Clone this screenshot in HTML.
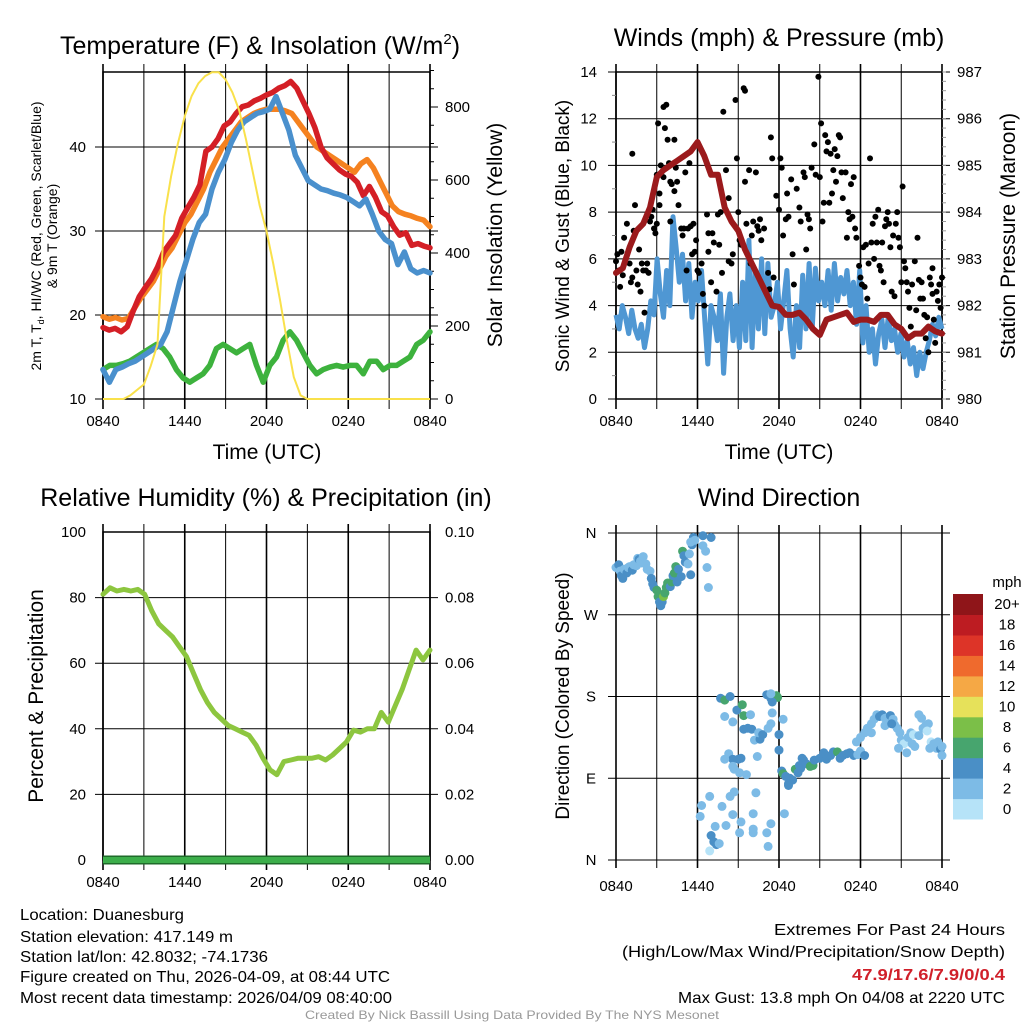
<!DOCTYPE html>
<html><head><meta charset="utf-8">
<style>
html,body{margin:0;padding:0;background:#fff;}
svg{display:block;font-family:"Liberation Sans",sans-serif;}
</style></head>
<body>
<svg id="fig" width="1024" height="1024" viewBox="0 0 1024 1024"></svg>
<script>
// ---------- DATA ----------
const timeLabels = ["0840","1440","2040","0240","0840"];
// Panel 1 (samples evenly spaced over 24h)
const tempRed = [18.5,18.2,18.4,18.0,18.6,20.5,22.2,23.3,24.3,25.7,27.5,28.5,29.5,31.5,32.8,34.0,35.5,39.5,40.0,41.0,42.5,43.0,44.0,44.8,45.0,45.5,45.8,46.2,46.5,47.0,47.3,47.8,47.0,45.5,44.0,42.3,40.0,38.7,38.0,37.3,36.8,36.5,35.8,34.2,35.3,34.0,32.3,31.8,30.5,29.5,29.8,28.3,28.5,28.2,28.0];
const tempOrange = [19.8,19.5,19.7,19.4,19.6,20.8,22.0,23.0,24.0,25.5,27.0,28.0,29.5,31.0,32.0,33.5,35.0,37.0,38.5,40.0,41.0,42.0,43.0,43.5,44.0,44.3,44.5,44.5,44.5,44.3,44.0,43.0,42.0,41.0,40.0,39.5,39.0,38.5,38.0,37.5,37.0,38.0,38.5,37.5,36.0,34.5,33.0,32.3,32.0,31.8,31.5,31.3,30.5];
const tempBlue = [13.5,12.0,13.5,13.8,14.2,14.5,15.0,15.5,16.0,16.5,18.0,21.0,24.0,26.5,29.0,31.0,32.0,35.0,37.0,38.5,40.5,42.0,43.0,43.5,44.0,44.2,44.5,46.0,44.0,42.0,39.0,37.5,36.0,35.5,35.0,34.8,34.5,34.3,34.0,33.5,33.0,33.8,32.0,30.0,29.0,28.5,26.0,27.5,25.5,25.0,25.3,25.0];
const tempGreen = [13.5,14.0,14.0,14.2,14.5,15.0,15.5,16.0,16.5,16.0,15.0,13.5,12.5,12.0,12.5,13.0,14.0,16.0,16.5,16.0,15.5,16.0,16.5,14.0,12.0,14.0,15.0,17.0,18.0,17.0,15.5,14.0,13.0,13.5,13.8,14.0,13.8,14.0,14.0,13.0,14.5,14.5,13.5,14.0,14.0,14.5,15.0,16.5,17.0,18.0];
const solar = [0,0,0,0,10,25,40,90,150,500,610,700,775,830,865,885,895,895,875,840,790,710,620,530,460,370,270,160,60,10,0,0,0,0,0,0,0,0,0,0,0,0,0,0,0,0,0,0,0];
const tempTicks = [10,20,30,40];
const solarTicks = [0,200,400,600,800];
// Panel 2
const windSpeed = [3.6,3.0,4.0,3.5,2.8,3.8,3.0,2.6,3.2,2.2,3.0,4.2,3.6,6.0,4.5,3.5,5.5,4.0,7.8,6.5,5.0,6.2,4.2,5.8,3.5,5.0,4.2,5.5,3.5,1.5,4.0,3.5,2.5,4.5,1.1,3.5,4.5,2.5,4.0,2.2,5.0,2.5,6.8,2.2,5.5,3.0,6.0,2.8,5.8,3.5,4.0,5.0,3.0,4.2,5.5,3.0,1.8,4.0,2.2,5.3,3.0,5.8,3.0,5.6,4.2,5.0,4.0,5.5,3.8,5.8,4.2,5.2,4.5,5.5,4.0,5.0,3.2,5.5,2.4,4.0,2.0,3.0,1.5,2.8,3.4,2.2,3.5,2.5,3.0,2.0,2.8,1.8,2.5,1.5,2.2,1.0,2.0,1.3,2.0,2.5,3.2,2.7,3.5,3.0];
const pressure = [982.7,982.8,983.25,983.6,983.75,984.1,984.75,984.9,985.0,985.1,985.2,985.3,985.5,985.2,984.8,984.8,984.1,983.8,983.6,983.2,982.9,982.6,982.3,982.0,981.97,981.8,981.8,981.85,981.7,981.5,981.37,981.7,981.75,981.8,981.85,981.65,981.7,981.7,981.65,981.8,981.8,981.6,981.5,981.3,981.4,981.4,981.55,981.45,981.4];
const gustT = [0.0,0.1,0.2,0.3,0.4,0.5,0.6,0.8,1.0,1.1,1.2,1.3,1.2,1.4,1.5,1.6,1.7,1.8,1.9,2.0,2.1,2.2,2.4,2.3,2.5,2.6,2.7,2.8,2.9,3.0,3.0,3.1,3.2,3.2,3.3,3.5,3.5,3.6,3.7,3.8,3.9,4.0,4.0,4.1,4.3,4.3,4.4,4.5,4.6,4.8,4.9,5.0,5.1,5.2,5.3,5.4,5.5,5.6,5.7,5.8,5.9,6.0,6.1,6.3,6.4,6.5,6.7,6.8,6.8,7.0,7.1,7.2,7.4,7.5,7.6,7.7,7.8,7.9,8.1,8.3,8.3,8.5,8.6,8.8,8.9,9.0,9.1,9.2,9.4,9.5,9.5,9.6,9.8,9.9,10.0,10.1,10.3,10.4,10.5,10.6,10.7,10.9,11.2,11.3,11.4,11.5,11.6,11.8,12.0,12.1,12.2,12.3,12.5,12.6,12.7,12.9,13.0,13.1,13.3,13.5,13.6,13.8,13.9,14.0,14.1,14.2,14.3,14.4,14.6,14.7,14.9,15.0,15.1,15.2,15.3,15.4,15.5,15.6,15.7,15.8,15.9,16.0,16.1,16.2,16.3,16.4,16.5,16.6,16.7,16.9,17.0,17.1,17.2,17.3,17.4,17.5,17.6,17.7,17.9,18.0,18.1,18.2,18.3,18.4,18.5,18.6,18.7,18.8,18.9,19.0,19.1,19.2,19.3,19.4,19.5,19.6,19.7,19.8,19.9,20.0,20.1,20.2,20.3,20.4,20.5,20.6,20.7,20.8,20.9,21.0,21.1,21.2,21.3,21.4,21.5,21.6,21.7,21.8,22.0,22.1,22.2,22.3,22.4,22.5,22.6,22.7,22.8,22.9,23.0,23.1,23.2,23.3,23.4,23.5,23.6,23.7,23.3,23.8,23.9,24.0];
const gustV = [5.9,6.2,5.5,4.8,6.3,5.3,6.9,7.5,5.8,5.0,5.2,7.2,10.5,8.3,5.5,4.9,6.4,4.6,5.8,5.5,3.7,5.5,5.4,5.8,7.6,7.8,8.1,7.3,7.1,7.5,9.6,11.8,8.3,8.8,10.0,9.5,12.5,11.6,12.6,11.1,10.1,9.3,7.6,9.2,8.9,11.1,9.9,9.3,8.3,7.3,7.0,7.3,9.7,5.5,7.3,10.1,7.4,6.2,7.5,6.3,6.8,5.5,5.4,5.8,4.5,4.0,7.9,6.3,7.1,5.0,7.1,6.7,4.6,7.9,6.6,8.0,5.4,12.3,9.8,8.6,5.9,5.8,6.2,12.8,10.3,8.0,6.8,6.6,13.3,13.2,9.3,7.5,9.8,5.8,7.0,7.6,9.7,7.4,7.2,7.7,6.8,7.3,5.4,4.7,11.2,10.3,5.2,8.7,8.1,10.3,9.9,7.0,7.7,8.8,7.8,9.4,6.2,4.9,9.0,8.2,7.6,9.7,9.5,6.4,7.9,7.7,7.3,9.9,10.9,9.6,13.8,9.5,11.8,7.6,8.4,11.3,10.6,11.0,8.4,10.5,8.8,9.8,10.7,9.3,10.4,11.3,11.2,9.7,8.6,9.7,6.9,8.0,7.7,9.2,7.8,9.5,7.3,6.9,5.7,5.2,4.9,6.5,4.8,6.6,4.3,5.8,10.3,6.7,7.5,6.0,7.8,6.7,8.1,5.7,5.5,6.7,5.0,7.4,7.7,8.0,7.5,6.5,4.6,7.0,4.4,7.5,8.0,6.9,6.5,5.0,9.1,5.9,5.6,5.0,4.6,3.9,3.1,4.9,5.9,3.8,6.9,5.1,4.3,5.0,4.3,3.6,2.6,3.5,2.0,5.2,4.9,5.6,3.4,2.4,4.6,4.2,4.5,4.9,3.9,5.2];
const windTicks = [0,2,4,6,8,10,12,14];
const pressTicks = [980,981,982,983,984,985,986,987];
// Panel 3
const rh = [81,83,82,82.5,82,82.5,81,76,72,70,68,65,62,57,52,48,45,43,41,40,39,38,35,31,27.5,26,30,30.5,31,31,31,31.5,30.5,32,34,36,39.6,39,40,40,45,42,47,52,58,64,61,64];
const precip = [0,0,0,0,0,0,0,0,0,0,0,0,0,0,0,0,0,0,0,0,0,0,0,0,0];
const rhTicks = [0,20,40,60,80,100];
const precipTicks = ["0.00","0.02","0.04","0.06","0.08","0.10"];
// Panel 4
const dirT = [0,0.2,0.3,0.4,0.5,0.6,0.8,0.9,1.0,1.2,1.3,1.5,1.6,1.7,1.8,1.9,2.0,2.2,2.3,2.5,2.6,2.7,2.8,3.0,3.1,3.2,3.3,3.4,3.5,3.6,3.7,3.8,4.0,4.1,4.2,4.3,4.4,4.5,4.6,4.8,4.9,5.0,5.1,5.3,5.4,5.5,5.6,5.7,5.8,5.5,6.4,6.4,6.6,6.7,7.0,6.8,
6.3,6.2,6.9,6.9,7.0,7.2,7.4,7.6,7.3,7.8,8.4,8.1,8.6,8.7,9.2,9.1,10.3,10.1,10.1,10.1,11.4,11.1,11.2,12.4,
7.7,8.0,8.4,8.0,8.9,8.6,9.3,9.4,9.4,9.7,10.0,10.2,10.6,10.5,10.8,11.2,11.4,11.1,11.4,11.8,11.9,11.5,11.4,12.3,12.0,12.0,11.5,8.3,8.6,9.0,9.2,8.7,9.1,8.6,8.0,9.6,10.4,9.9,
12.2,12.3,12.5,12.8,13.0,12.7,13.2,13.4,13.5,13.6,13.7,13.8,14.0,14.3,14.5,14.6,15.0,15.3,15.5,15.8,16.0,16.3,16.5,16.7,17.0,17.2,17.5,17.8,18.0,18.3,12.7,
17.7,18.0,18.3,18.5,18.8,19.0,19.2,19.4,19.6,19.8,20.0,20.2,20.4,20.5,20.7,20.9,21.0,21.2,21.5,21.7,21.9,22.0,22.3,22.6,22.8,23.0,23.2,22.5,22.3,22.9,23.1,23.4,23.6,23.7,23.9,24.0,24.0,21.4,20.8,21.8,18.8,19.8,20.3];
const dirD = [322,325,318,313,310,320,316,322,323,319,325,324,332,331,329,327,334,326,320,318,310,304,300,297,290,284,280,284,290,294,300,305,301,306,313,316,323,306,320,312,340,335,328,326,337,314,347,355,352,350,346,357,340,322,355,300,
60,48,70,10,27,20,17,18,37,59,70,38,50,75,42,30,74,34,51,30,40,30,15,51,
178,176,180,158,165,152,171,159,144,145,144,132,133,140,138,145,150,182,178,181,179,174,183,155,121,138,162,117,111,111,112,100,96,103,111,94,114,160,
98,95,92,90,88,84,100,96,104,101,112,110,106,103,104,110,112,118,111,115,119,119,112,115,117,118,115,116,120,115,82,
130,135,140,145,150,155,160,158,160,156,157,159,155,149,145,140,132,128,135,140,138,125,137,145,148,150,130,156,160,142,123,128,123,130,122,115,125,118,123,128,140,148,150];
const dirS = [3,4,3.5,4,4.5,3,4,3,2.5,4,2.5,2.5,2.5,4,3,2.5,2.5,2,2.5,3,4,4,5,6,6.5,5,4,5,8,6,6,7,5,6,5,7,6,4.5,4,4,6,4,4,3,3,4,4,4.5,2.5,2.5,2.5,4,2.5,2.5,4,2.5,
2.5,2.5,2.5,0.5,4,4,4,2.5,2.5,2.5,2.5,2.5,2.5,2.5,2.5,2.5,2.5,2.5,2.5,2.5,2.5,2.5,2.5,2.5,
4,6,4,2.5,4,2.5,6,6,4.5,4,4,2.5,4.5,2.5,4,2.5,2.5,4,4,6,6,4.5,2.5,2.5,4,4,2.5,2.5,4,4,4,2.5,2.5,2.5,2.5,2.5,2.5,2.5,
4,6,4.5,4.5,4,4,6,4,4,4,4.5,4,4.5,6,6,4,4,4,4.5,4.5,4,6,4,4,4,4.5,4,3,2.5,4,4,
2.5,2.5,2.5,2.5,3,2.5,3,4,4,2.5,2.5,4,3,2.5,2.5,2.5,2.5,1,2.5,2.5,1,2.5,2.5,2,2,2.5,1,3,3,1,2.5,2.5,2.5,2.5,4,2.5,2.5,2.5,2.5,2.5,2.5,2.5,4];
const dirTickLabels = ["N","E","S","W","N"];
const cbarLabels = ["0","2","4","6","8","10","12","14","16","18","20+"];
const cbarColors = ["#b6e3f8","#7dbbe6","#4a8fc6","#47a56e","#7bbf48","#e6e15a","#f5a845","#ef6a2d","#dd3428","#bd1c22","#8f1519"];

// ---------- HELPERS ----------
const NS = "http://www.w3.org/2000/svg";
const svg = document.getElementById("fig");
function mk(tag, attrs, parent) {
  const e = document.createElementNS(NS, tag);
  for (const k in attrs) e.setAttribute(k, attrs[k]);
  (parent || svg).appendChild(e);
  return e;
}
function txt(str, x, y, size, anchor, extra, parent) {
  const e = mk("text", Object.assign({x: x, y: y, "font-size": size, "text-anchor": anchor || "middle", fill: "#000"}, extra || {}), parent);
  e.textContent = str;
  return e;
}
function lineAttrs(x1,y1,x2,y2,w,c){return {x1:x1,y1:y1,x2:x2,y2:y2,stroke:c||"#000","stroke-width":w||1};}
function pathFrom(arr, sx, sy){
  let d="";
  arr.forEach((v,i)=>{ d += (i?"L":"M")+sx(i*24/(arr.length-1)).toFixed(1)+","+sy(v).toFixed(1); });
  return d;
}
function panelGrid(g, L, R, T, B, hVals, ys, bottomLabels) {
  for (let i=0;i<=8;i++){
    const x = L + (R-L)*i/8;
    const gl = mk("line", lineAttrs(x,T-8,x,B+10,i%2?1:1.6,"#000"), g);
    
    
    if (i%2===0 && bottomLabels){
      const t = txt(timeLabels[i/2], x, B+27, 15, "middle", {}, g);
      
      
    }
  }
  hVals.forEach(v=>{
    const y = ys(v);
    const hl = mk("line", lineAttrs(L-8,y,R+8,y,1,"#000"), g);
    
    
  });
  const fr = mk("rect",{x:L,y:T,width:R-L,height:B-T,fill:"none",stroke:"#000","stroke-width":1.5},g);
  
  
}

// ---------- PANEL 1 ----------
(function(){
  const g = mk("g",{});
  
  
  const L=103,R=430,T=72,B=399;
  const sx = h=>L+(R-L)*h/24;
  const sy = v=>B-(v-10)*8.4;
  const sy2 = v=>B-v*0.365;
  const tt = txt("Temperature (F) & Insolation (W/m", 260, 54, 25, "middle", {}, g);
  
  
  const sup = mk("tspan",{dy:-10,"font-size":15},tt); sup.textContent="2";
  const cl = mk("tspan",{dy:10},tt); cl.textContent=")";
  panelGrid(g,L,R,T,B,tempTicks,sy,true);
  tempTicks.forEach(v=>{
    const t = txt(String(v), 86, sy(v)+5, 15, "end", {}, g);
    
    
  });
  for (let v=0; v<=900; v+=50){
    const y=sy2(v);
    const tk = mk("line", lineAttrs(R, y, R+(v%200===0?8:4), y, 1,"#000"), g);
    
    
  }
  solarTicks.forEach(v=>{
    const t = txt(String(v), 445, sy2(v)+5, 15, "start", {}, g);
    
    
  });
  const series = [[tempGreen,"#3db23d","dewpoint-line"],[tempOrange,"#f58220","temp-9m-line"],[tempRed,"#d41f26","temp-2m-line"],[tempBlue,"#4a90cd","heat-index-line"]];
  series.forEach(s=>{
    const p = mk("path",{d:pathFrom(s[0],sx,sy),fill:"none",stroke:s[1],"stroke-width":5.5,"stroke-linejoin":"round","stroke-linecap":"round"},g);
    
    
  });
  const sp = mk("path",{d:pathFrom(solar,sx,sy2),fill:"none",stroke:"#f9e14b","stroke-width":2},g);
  
  
  const xt = txt("Time (UTC)", 267, 459, 21, "middle", {}, g);
  
  
  const y1 = txt("2m T, T", 0, 0, 14, "middle", {transform:"translate(41,236) rotate(-90)"}, g);
  
  
  const sub = mk("tspan",{dy:3,"font-size":9},y1); sub.textContent="d";
  const rest = mk("tspan",{dy:-3},y1); rest.textContent=", HI/WC (Red, Green, Scarlet/Blue)";
  const y1b = txt("& 9m T (Orange)", 0, 0, 14, "middle", {transform:"translate(57,236) rotate(-90)"}, g);
  
  
  const y2 = txt("Solar Insolation (Yellow)", 0, 0, 21, "middle", {transform:"translate(502,235) rotate(-90)"}, g);
  
  
})();

// ---------- PANEL 2 ----------
(function(){
  const g = mk("g",{});
  
  
  const L=616,R=942,T=72,B=399;
  const sx = h=>L+(R-L)*h/24;
  const sy = v=>B-v*(B-T)/14;
  const sy2 = v=>B-(v-980)*(B-T)/7;
  const tt = txt("Winds (mph) & Pressure (mb)", 779, 46, 25, "middle", {}, g);
  
  
  panelGrid(g,L,R,T,B,windTicks,sy,true);
  windTicks.forEach(v=>{
    const t = txt(String(v), 597, sy(v)+5, 15, "end", {}, g);
    
    
  });
  for (let v=0; v<=14; v+=1){
    if (v%2){const y=sy(v); const tk=mk("line",lineAttrs(L-4,y,L,y,1,"#888"),g);
    
    }
  }
  for (let v=980; v<=987.001; v+=0.2){
    const y=sy2(v);
    const tk=mk("line",lineAttrs(R,y,R+4,y,1,"#999"),g);
    
    
  }
  pressTicks.forEach(v=>{
    const t = txt(String(v), 957, sy2(v)+5, 15, "start", {}, g);
    
    
  });
  const wl = mk("path",{d:pathFrom(windSpeed,sx,sy),fill:"none",stroke:"#4f97d3","stroke-width":5,"stroke-linejoin":"round"},g);
  
  
  gustT.forEach((t,i)=>{
    const c = mk("circle",{cx:sx(t).toFixed(1),cy:sy(gustV[i]).toFixed(1),r:3,fill:"#000"},g);
    
    
  });
  const pl = mk("path",{d:pathFrom(pressure,sx,sy2),fill:"none",stroke:"#9b1a1c","stroke-width":6,"stroke-linejoin":"round","stroke-linecap":"round"},g);
  
  
  const xt = txt("Time (UTC)", 779, 459, 21, "middle", {}, g);
  
  
  const y1 = txt("Sonic Wind & Gust (Blue, Black)", 0, 0, 19, "middle", {transform:"translate(569,236) rotate(-90)"}, g);
  
  
  const y2 = txt("Station Pressure (Maroon)", 0, 0, 21, "middle", {transform:"translate(1015,236) rotate(-90)"}, g);
  
  
})();

// ---------- PANEL 3 ----------
(function(){
  const g = mk("g",{});
  
  
  const L=103,R=430,T=532,B=860;
  const sx = h=>L+(R-L)*h/24;
  const sy = v=>B-v*(B-T)/100;
  const sy2 = v=>B-v*(B-T)/0.1;
  const tt = txt("Relative Humidity (%) & Precipitation (in)", 266, 506, 25, "middle", {}, g);
  
  
  panelGrid(g,L,R,T,B,[20,40,60,80],sy,true);
  rhTicks.forEach(v=>{
    const t = txt(String(v), 86, sy(v)+5, 15, "end", {}, g);
    
    
  });
  precipTicks.forEach((s,i)=>{
    const t = txt(s, 445, B-i*(B-T)/5+5, 15, "start", {}, g);
    
    
  });
  const rl = mk("path",{d:pathFrom(rh,sx,sy),fill:"none",stroke:"#8dc63f","stroke-width":5,"stroke-linejoin":"round","stroke-linecap":"round"},g);
  
  
  const pl = mk("path",{d:pathFrom(precip,sx,sy2),fill:"none",stroke:"#1f6b2a","stroke-width":9},g);
  
  
  const pl2 = mk("path",{d:pathFrom(precip,sx,sy2),fill:"none",stroke:"#3cae4a","stroke-width":6},g);
  
  
  const y1 = txt("Percent & Precipitation", 0, 0, 21, "middle", {transform:"translate(43,696) rotate(-90)"}, g);
  
  
})();

// ---------- PANEL 4 ----------
(function(){
  const g = mk("g",{});
  
  
  const L=616,R=942,T=533,B=860;
  const sx = h=>L+(R-L)*h/24;
  const sy = d=>B-d*(B-T)/360;
  const tt = txt("Wind Direction", 779, 506, 25, "middle", {}, g);
  
  
  for (let i=0;i<=8;i++){
    const x = L+(R-L)*i/8;
    const gl = mk("line", lineAttrs(x,T-8,x,B+8,i%2?1:1.6,"#000"), g);
    
    
    if (i%2===0){
      const t = txt(timeLabels[i/2], x, 891, 15, "middle", {}, g);
      
      
    }
  }
  dirTickLabels.forEach((s,i)=>{
    const y = sy(i*90);
    const hl = mk("line", lineAttrs(L-8,y,R+8,y,1,"#000"), g);
    
    
    const t = txt(s, 591, y+5, 15, "middle", {}, g);
    
    
  });
  dirT.forEach((t,i)=>{
    const ci = Math.min(10, Math.floor(dirS[i]/2));
    const c = mk("circle",{cx:sx(t).toFixed(1),cy:sy(dirD[i]).toFixed(1),r:4.5,fill:cbarColors[ci]},g);
    
    
  });
  const y1 = txt("Direction (Colored By Speed)", 0, 0, 19, "middle", {transform:"translate(569,696) rotate(-90)"}, g);
  
  
  // colorbar
  const cb = mk("g",{},g);
  
  
  const cbT=594, cbB=819, h=(cbB-cbT)/11;
  cbarColors.forEach((c,i)=>{
    const r = mk("rect",{x:953,y:(cbB-(i+1)*h).toFixed(1),width:30,height:(h+0.5).toFixed(1),fill:c},cb);
    
    
    const t = txt(cbarLabels[i], 1007, cbB-i*h-h/2+5, 15, "middle", {}, cb);
    
    
  });
  const u = txt("mph", 1007, 587, 15, "middle", {}, cb);
  
  
})();

// ---------- FOOTER ----------
(function(){
  const g = mk("g",{});
  
  
  const left = [["Location: Duanesburg",920,164],["Station elevation: 417.149 m",942,213],["Station lat/lon: 42.8032; -74.1736",962,248],["Figure created on Thu, 2026-04-09, at 08:44 UTC",982,370],["Most recent data timestamp: 2026/04/09 08:40:00",1003,372]];
  left.forEach(a=>{
    const t = txt(a[0],20,a[1],16,"start",{textLength:a[2],lengthAdjust:"spacingAndGlyphs"},g);
    
    
  });
  const right = [["Extremes For Past 24 Hours",935,231,"#000","normal"],["(High/Low/Max Wind/Precipitation/Snow Depth)",957,383,"#000","normal"],["47.9/17.6/7.9/0/0.4",980,153,"#d0202a","bold"],["Max Gust: 13.8 mph On 04/08 at 2220 UTC",1003,327,"#000","normal"]];
  right.forEach(a=>{
    const t = txt(a[0],1005-a[2],a[1],16,"start",{textLength:a[2],lengthAdjust:"spacingAndGlyphs",fill:a[3],"font-weight":a[4]},g);
    
    
  });
  const c = txt("Created By Nick Bassill Using Data Provided By The NYS Mesonet",305,1019,12,"start",{textLength:414,lengthAdjust:"spacingAndGlyphs",fill:"#999"},g);
  
  
})();
</script>
</body></html>
